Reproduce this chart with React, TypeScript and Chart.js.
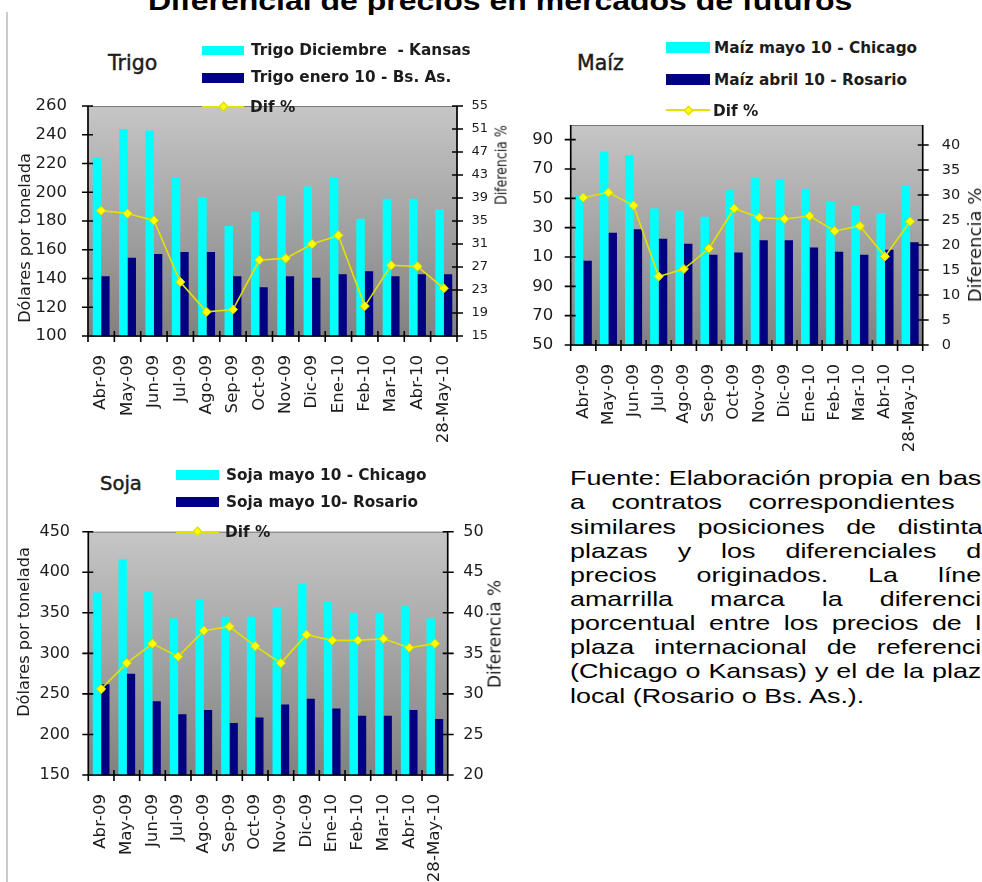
import React, { useEffect, useRef } from "react";
import { Chart, registerables } from "chart.js";

Chart.register(...registerables);

// ---------------- DATA ----------------
const months = ["Abr-09", "May-09", "Jun-09", "Jul-09", "Ago-09", "Sep-09", "Oct-09", "Nov-09", "Dic-09", "Ene-10", "Feb-10", "Mar-10", "Abr-10", "28-May-10"];

const trigoKansas = [224, 244, 243, 210.5, 196.5, 176.5, 186.5, 197.5, 204, 210.5, 181.5, 195.5, 195.5, 188];
const trigoBsAs = [141.5, 154.5, 157, 158.5, 158.5, 141.5, 134, 141.5, 140.5, 143, 145, 141.5, 143, 143];
const trigoDif = [36.8, 36.3, 35.1, 24.4, 19.2, 19.6, 28.2, 28.5, 31.0, 32.5, 20.2, 27.3, 27.1, 23.3];

const maizChicago = [152, 182, 179.5, 143, 141.5, 137.5, 155.5, 164, 163, 156.5, 148, 145, 140, 159];
const maizRosario = [107.5, 126.5, 129, 122.5, 119, 111.5, 113, 121.5, 121.5, 116.5, 113.5, 111.5, 115, 120];
const maizDif = [29.5, 30.5, 27.9, 13.7, 15.2, 19.3, 27.3, 25.5, 25.2, 25.8, 22.8, 23.8, 17.7, 24.7];
const maizLeftTickLabels = ["50", "70", "90", "10", "30", "50", "70", "90"];

const sojaChicago = [375, 416, 377, 343, 366, 345, 345, 357, 386, 364, 350, 350, 358, 343];
const sojaRosario = [262, 275, 241, 225, 230, 214, 221, 237, 244, 232, 223, 223, 230, 219];
const sojaDif = [30.6, 33.8, 36.2, 34.6, 37.8, 38.3, 35.9, 33.8, 37.3, 36.6, 36.6, 36.8, 35.7, 36.2];

const fuenteLines = [
  "Fuente: Elaboración propia en base",
  "a contratos correspondientes a",
  "similares posiciones de distintas",
  "plazas y los diferenciales de",
  "precios originados. La línea",
  "amarrilla marca la diferencia",
  "porcentual entre los precios de la",
  "plaza internacional de referencia",
  "(Chicago o Kansas) y el de la plaza",
  "local (Rosario o Bs. As.).",
];

// ---------------- STYLE ----------------
const FONT_CHART = "'DejaVu Sans', sans-serif";
const FONT_DOC = "'Liberation Sans', Arial, sans-serif";
const TEXT = "#1c1c1c";
const CYAN = "#00ffff";
const NAVY = "#000080";
const YELLOW = "#ffff00";
const YLINE = "#e2e200";
const STRETCH = 1.28;

const plotDecor = {
  id: "plotDecor",
  beforeDatasetsDraw(chart: any) {
    const { ctx, chartArea: a } = chart;
    ctx.save();
    const g = ctx.createLinearGradient(0, a.top, 0, a.bottom);
    g.addColorStop(0, "#c6c6c6");
    g.addColorStop(1, "#818181");
    ctx.fillStyle = g;
    ctx.fillRect(a.left, a.top, a.right - a.left, a.bottom - a.top);
    ctx.strokeStyle = "#7a7a7a";
    ctx.lineWidth = 1;
    ctx.strokeRect(a.left, a.top + 0.5, a.right - a.left, a.bottom - a.top);
    ctx.restore();
  },
  afterDatasetsDraw(chart: any) {
    const { ctx, chartArea: a, scales } = chart;
    ctx.save();
    ctx.strokeStyle = "#000";
    ctx.lineWidth = 1.6;
    ctx.beginPath();
    ctx.moveTo(a.left, a.top);
    ctx.lineTo(a.left, a.bottom);
    ctx.moveTo(a.right, a.top);
    ctx.lineTo(a.right, a.bottom);
    ctx.moveTo(a.left - 1, a.bottom);
    ctx.lineTo(a.right + 1, a.bottom);
    for (const t of scales.y.ticks) {
      const py = scales.y.getPixelForValue(t.value);
      ctx.moveTo(a.left - 6, py);
      ctx.lineTo(a.left + 5, py);
    }
    for (const t of scales.y1.ticks) {
      const py = scales.y1.getPixelForValue(t.value);
      ctx.moveTo(a.right - 5, py);
      ctx.lineTo(a.right + 6, py);
    }
    const x = scales.x;
    const n = x.ticks.length;
    const step = n > 1 ? x.getPixelForValue(1) - x.getPixelForValue(0) : 0;
    for (let i = 0; i <= n; i++) {
      const px = x.getPixelForValue(0) - step / 2 + i * step;
      ctx.moveTo(px, a.bottom - 5);
      ctx.lineTo(px, a.bottom + 6);
    }
    ctx.stroke();
    ctx.restore();
  },
};

type AxisSpec = {
  min: number;
  max: number;
  step: number;
  size: number;
  padding: number;
  labels?: string[];
};

type PanelSpec = {
  box: { left: number; top: number; width: number; height: number };
  leftW: number;
  rightW: number;
  padTop: number;
  bottomH: number;
  catPct: number;
  cyan: number[];
  navy: number[];
  dif: number[];
  cyanLabel: string;
  navyLabel: string;
  left: AxisSpec;
  right: AxisSpec;
};

function axisOptions(ax: AxisSpec, position: string, width: number) {
  return {
    position,
    min: ax.min,
    max: ax.max,
    grid: { display: false, drawTicks: false },
    border: { display: false },
    ticks: {
      stepSize: ax.step,
      padding: ax.padding,
      color: TEXT,
      font: { family: FONT_CHART, size: ax.size },
      callback: (v: any, i: number) => (ax.labels ? ax.labels[i] ?? String(v) : String(v)),
    },
    afterBuildTicks: (s: any) => {
      const out: { value: number }[] = [];
      for (let v = ax.min; v <= ax.max + 1e-9; v += ax.step) out.push({ value: v });
      s.ticks = out;
    },
    afterFit: (s: any) => {
      s.width = width;
      s.paddingTop = 0;
      s.paddingBottom = 0;
    },
  };
}

function ChartPanel({ spec }: { spec: PanelSpec }) {
  const ref = useRef<HTMLCanvasElement>(null);
  useEffect(() => {
    if (!ref.current) return;
    const chart = new Chart(ref.current, {
      type: "bar",
      data: {
        labels: months,
        datasets: [
          {
            type: "line",
            label: "Dif %",
            data: spec.dif,
            yAxisID: "y1",
            borderColor: YLINE,
            borderWidth: 1.6,
            pointStyle: "rectRot",
            pointRadius: 4.6,
            pointBackgroundColor: YELLOW,
            pointBorderColor: "#d6d600",
            pointBorderWidth: 1,
            tension: 0,
            order: 0,
          } as any,
          {
            type: "bar",
            label: spec.cyanLabel,
            data: spec.cyan,
            yAxisID: "y",
            backgroundColor: CYAN,
            borderWidth: 0,
            categoryPercentage: spec.catPct,
            barPercentage: 1,
            order: 1,
          },
          {
            type: "bar",
            label: spec.navyLabel,
            data: spec.navy,
            yAxisID: "y",
            backgroundColor: NAVY,
            borderWidth: 0,
            categoryPercentage: spec.catPct,
            barPercentage: 1,
            order: 2,
          },
        ],
      },
      options: {
        animation: false,
        responsive: false,
        devicePixelRatio: 1,
        layout: { padding: { top: spec.padTop, left: 0, right: 0, bottom: 0 } },
        plugins: { legend: { display: false }, tooltip: { enabled: false }, title: { display: false } },
        scales: {
          x: {
            grid: { display: false, drawTicks: false },
            border: { display: false },
            ticks: {
              autoSkip: false,
              maxRotation: 90,
              minRotation: 90,
              padding: 19,
              color: TEXT,
              font: { family: FONT_CHART, size: 16.6 },
            },
            afterFit: (s: any) => {
              s.height = spec.bottomH;
              s.paddingLeft = 0;
              s.paddingRight = 0;
            },
          },
          y: axisOptions(spec.left, "left", spec.leftW) as any,
          y1: axisOptions(spec.right, "right", spec.rightW) as any,
        },
      },
      plugins: [plotDecor],
    });
    return () => chart.destroy();
  }, [spec]);
  const b = spec.box;
  return (
    <canvas
      ref={ref}
      width={b.width}
      height={b.height}
      style={{ position: "absolute", left: b.left, top: b.top, width: b.width, height: b.height }}
    />
  );
}

const trigoSpec: PanelSpec = {
  box: { left: 10, top: 95, width: 510, height: 355 },
  leftW: 78,
  rightW: 63,
  padTop: 11,
  bottomH: 114,
  catPct: 0.64,
  cyan: trigoKansas,
  navy: trigoBsAs,
  dif: trigoDif,
  cyanLabel: "Trigo Diciembre  - Kansas",
  navyLabel: "Trigo enero 10 - Bs. As.",
  left: { min: 100, max: 260, step: 20, size: 16.5, padding: 21 },
  right: { min: 15, max: 55, step: 4, size: 13, padding: 14.5 },
};

const maizSpec: PanelSpec = {
  box: { left: 525, top: 115, width: 457, height: 340 },
  leftW: 45.7,
  rightW: 59.3,
  padTop: 10,
  bottomH: 110,
  catPct: 0.68,
  cyan: maizChicago,
  navy: maizRosario,
  dif: maizDif,
  cyanLabel: "Maíz mayo 10 - Chicago",
  navyLabel: "Maíz abril 10 - Rosario",
  left: { min: 50, max: 200, step: 20, size: 16.5, padding: 17.5, labels: maizLeftTickLabels },
  right: { min: 0, max: 44, step: 5, size: 14.5, padding: 19 },
};

const sojaSpec: PanelSpec = {
  box: { left: 10, top: 520, width: 500, height: 362 },
  leftW: 78.3,
  rightW: 62.3,
  padTop: 11.7,
  bottomH: 107,
  catPct: 0.65,
  cyan: sojaChicago,
  navy: sojaRosario,
  dif: sojaDif,
  cyanLabel: "Soja mayo 10 - Chicago",
  navyLabel: "Soja mayo 10- Rosario",
  left: { min: 150, max: 450, step: 50, size: 16, padding: 18.3 },
  right: { min: 20, max: 50, step: 5, size: 16, padding: 15.6 },
};

// ---------------- HTML TEXT HELPERS ----------------
function T({ x, base, size, bold, family, children, color, sx, stroke }: any) {
  return (
    <div
      style={{
        position: "absolute",
        left: x,
        top: base - 0.3465 * size,
        lineHeight: 0,
        fontSize: size,
        fontFamily: family || FONT_CHART,
        fontWeight: bold ? "bold" : "normal",
        whiteSpace: "pre",
        color: color || TEXT,
        transformOrigin: "0 0",
        transform: sx ? `scaleX(${sx})` : undefined,
        WebkitTextStroke: stroke ? `${stroke}px ${color || TEXT}` : undefined,
      } as any}
    >
      {children}
    </div>
  );
}

function RotText({ cx, cy, size, scale, children }: any) {
  return (
    <div style={{ position: "absolute", left: cx, top: cy, width: 0, height: 0 }}>
      <span
        style={{
          position: "absolute",
          left: 0,
          top: 0,
          whiteSpace: "pre",
          fontFamily: FONT_CHART,
          fontSize: size,
          lineHeight: 1,
          color: TEXT,
          transform: `translate(-50%, -50%) rotate(-90deg) scaleX(${scale || 1})`,
        }}
      >
        {children}
      </span>
    </div>
  );
}

function Swatch({ x, y, w, h, color }: any) {
  return <div style={{ position: "absolute", left: x, top: y, width: w, height: h, background: color }} />;
}

function LineSwatch({ x, y, w }: any) {
  return (
    <>
      <div style={{ position: "absolute", left: x, top: y - 1, width: w, height: 2, background: YLINE }} />
      <div
        style={{
          position: "absolute",
          left: x + w / 2 - 3.5,
          top: y - 3.5,
          width: 7,
          height: 7,
          boxSizing: "border-box",
          background: YELLOW,
          border: "1px solid #d6d600",
          transform: "rotate(45deg)",
        }}
      />
    </>
  );
}

function Legend({ title, tx, tbase, tsize, sx, sw, textX, rows }: any) {
  return (
    <>
      <T x={tx} base={tbase} size={tsize} stroke={0.45}>
        {title}
      </T>
      <Swatch x={sx} y={rows[0].sy} w={sw} h={rows[0].sh} color={CYAN} />
      <T x={textX} base={rows[0].base} size={15.3} bold>
        {rows[0].label}
      </T>
      <Swatch x={sx} y={rows[1].sy} w={sw} h={rows[1].sh} color={NAVY} />
      <T x={textX} base={rows[1].base} size={15.3} bold>
        {rows[1].label}
      </T>
      <LineSwatch x={sx} y={rows[2].sy} w={sw} />
      <T x={textX - 1} base={rows[2].base} size={15.3} bold>
        {rows[2].label}
      </T>
    </>
  );
}

export default function App() {
  const lineH = 24.15;
  const fuenteSize = 21;
  return (
    <div style={{ position: "fixed", left: 0, top: 0, width: 982, height: 882, overflow: "hidden", background: "#fff" }}>
      <div style={{ position: "absolute", left: 6, top: 12, width: 1.5, height: 870, background: "#cccccc" }} />
      <T x={148} base={10} size={25} bold family={FONT_DOC} color="#000" sx={STRETCH}>
        Diferencial de precios en mercados de futuros
      </T>

      <ChartPanel spec={trigoSpec} />
      <ChartPanel spec={maizSpec} />
      <ChartPanel spec={sojaSpec} />

      <RotText cx={25} cy={238} size={16.2}>Dólares por tonelada</RotText>
      <RotText cx={502} cy={165} size={15} scale={0.835}>Diferencia %</RotText>
      <RotText cx={975} cy={245} size={18}>Diferencia %</RotText>
      <RotText cx={24} cy={632} size={16.2}>Dólares por tonelada</RotText>
      <RotText cx={495} cy={634} size={17}>Diferencia %</RotText>

      <Legend
        title="Trigo"
        tx={108}
        tbase={70}
        tsize={20.5}
        sx={202}
        sw={42}
        textX={251}
        rows={[
          { sy: 46, sh: 9, base: 55, label: trigoSpec.cyanLabel },
          { sy: 73, sh: 9.5, base: 82.5, label: trigoSpec.navyLabel },
          { sy: 106.5, base: 112, label: "Dif %" },
        ]}
      />
      <Legend
        title="Maíz"
        tx={577}
        tbase={70}
        tsize={20.5}
        sx={666}
        sw={44}
        textX={714}
        rows={[
          { sy: 42, sh: 11, base: 53.5, label: maizSpec.cyanLabel },
          { sy: 73.5, sh: 11.5, base: 85, label: maizSpec.navyLabel },
          { sy: 110, base: 116.5, label: "Dif %" },
        ]}
      />
      <Legend
        title="Soja"
        tx={100}
        tbase={491}
        tsize={19.6}
        sx={176}
        sw={43}
        textX={226}
        rows={[
          { sy: 470, sh: 10, base: 480, label: sojaSpec.cyanLabel },
          { sy: 497, sh: 10, base: 507, label: sojaSpec.navyLabel },
          { sy: 531.5, base: 537, label: "Dif %" },
        ]}
      />

      {fuenteLines.map((line, i) => {
        const last = i === fuenteLines.length - 1;
        return (
          <div
            key={i}
            style={{
              position: "absolute",
              left: 570,
              top: 485.5 + i * lineH - 0.3465 * fuenteSize,
              width: 333,
              lineHeight: 0,
              fontSize: fuenteSize,
              fontFamily: FONT_DOC,
              color: "#000",
              textAlign: last ? "left" : "justify",
              textAlignLast: last ? "left" : "justify",
              whiteSpace: "nowrap",
              transformOrigin: "0 0",
              transform: `scaleX(${STRETCH})`,
            } as any}
          >
            {line}
          </div>
        );
      })}
    </div>
  );
}
